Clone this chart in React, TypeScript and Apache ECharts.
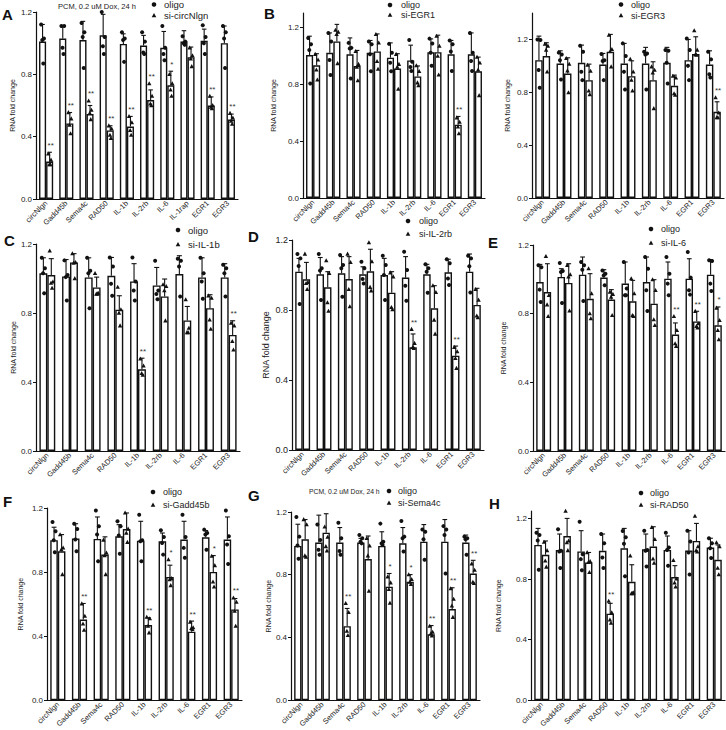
import React, { useEffect, useRef } from 'react';
import * as echarts from 'echarts';

const CATS10 = ['circNlgn', 'Gadd45b', 'Sema4c', 'RAD50', 'IL-1b', 'IL-2rb', 'IL-6', 'IL-1rap', 'EGR1', 'EGR3'];
const CATS9 = ['circNlgn', 'Gadd45b', 'Sema4c', 'RAD50', 'IL-1b', 'IL-2rb', 'IL-6', 'EGR1', 'EGR3'];
const Y_TICKS = [0, 0.4, 0.8, 1.2];

// Panel A: si-circNlgn
const aOligoMean = [1.01, 1.03, 1.02, 1.05, 0.995, 0.985, 0.97, 1.01, 1.015, 1.0];
const aOligoErr = [1.12, 1.11, 1.14, 1.185, 1.06, 1.05, 1.075, 1.08, 1.09, 1.11];
const aOligoPts = [[1.12, 1.03, 1.02, 0.87], [1.11, 1.11, 0.97, 0.93], [1.13, 1.07, 1.04, 0.84], [1.2, 1.04, 0.98, 0.93], [1.07, 1.03, 1.02, 0.88], [1.07, 1.01, 0.94, 0.93], [1.11, 0.97, 0.93, 0.89], [1.045, 1.01, 1.0, 0.99], [1.115, 1.04, 1.0, 0.93], [1.11, 1.07, 1.03, 0.84]];
const aSiMean = [0.24, 0.485, 0.545, 0.44, 0.465, 0.635, 0.73, 0.91, 0.6, 0.51];
const aSiErr = [0.3, 0.555, 0.6, 0.47, 0.53, 0.7, 0.82, 0.975, 0.655, 0.545];
const aSiPts = [[0.29, 0.25, 0.22, 0.22], [0.555, 0.515, 0.475, 0.42], [0.63, 0.57, 0.55, 0.51], [0.47, 0.45, 0.41, 0.39], [0.53, 0.49, 0.44, 0.41], [0.74, 0.66, 0.61, 0.6], [0.8, 0.74, 0.7, 0.66], [0.97, 0.92, 0.9, 0.85], [0.66, 0.6, 0.59, 0.58], [0.55, 0.52, 0.5, 0.48]];
const aStars = ['**', '**', '**', '**', '**', '**', '*', '', '**', '**'];

// Panel B: si-EGR1
const bOligoMean = [1.005, 1.02, 1.01, 1.02, 0.986, 0.967, 1.025, 1.01, 1.01];
const bOligoErr = [1.137, 1.16, 1.125, 1.107, 1.09, 1.074, 1.118, 1.107, 1.16];
const bOligoPts = [[1.125, 1.08, 1.04, 0.805], [1.16, 1.1, 0.97, 0.865], [1.09, 1.055, 1.05, 0.84], [1.1, 1.08, 1.01, 0.89], [1.083, 1.02, 0.95, 0.89], [1.11, 0.958, 0.92, 0.893], [1.12, 1.085, 1.02, 0.93], [1.107, 1.08, 1.03, 0.893], [1.16, 1.02, 0.963, 0.893]];
const bSiMean = [0.933, 1.1, 0.928, 1.03, 0.91, 0.854, 1.025, 0.515, 0.89];
const bSiErr = [1.014, 1.22, 1.037, 1.153, 1.014, 0.928, 1.144, 0.573, 0.99];
const bSiPts = [[1.01, 0.97, 0.9, 0.83], [1.18, 1.165, 1.15, 0.945], [1.03, 0.94, 0.92, 0.825], [1.15, 1.09, 0.96, 0.905], [1.01, 0.94, 0.92, 0.765], [0.93, 0.89, 0.81, 0.79], [1.137, 1.067, 0.997, 0.865], [0.564, 0.533, 0.5, 0.452], [0.99, 0.95, 0.9, 0.72]];
const bStars = ['', '', '', '', '', '', '', '**', ''];

// Panel (top right): si-EGR3
const tOligoMean = [1.043, 1.018, 1.023, 1.01, 1.018, 1.018, 1.023, 1.043, 1.01];
const tOligoErr = [1.225, 1.114, 1.157, 1.094, 1.17, 1.14, 1.14, 1.2, 1.114];
const tOligoPts = [[1.2, 1.195, 0.968, 0.834], [1.1, 1.086, 1.043, 0.897], [1.152, 1.107, 0.955, 0.892], [1.089, 1.043, 1.036, 0.892], [1.17, 1.074, 0.955, 0.821], [1.107, 1.094, 1.086, 0.821], [1.12, 1.114, 1.023, 0.867], [1.207, 1.12, 1.0, 0.892], [1.107, 1.049, 0.937, 0.912]];
const tSiMean = [1.074, 0.942, 0.892, 1.107, 0.922, 0.892, 0.849, 1.089, 0.652];
const tSiErr = [1.175, 1.061, 1.013, 1.238, 1.038, 1.031, 0.93, 1.22, 0.728];
const tSiPts = [[1.165, 1.15, 1.12, 0.955], [1.056, 1.013, 0.963, 0.798], [1.006, 0.96, 0.81, 0.783], [1.233, 1.124, 1.107, 0.993], [1.051, 0.955, 0.892, 0.811], [0.993, 0.968, 0.947, 0.677], [0.922, 0.91, 0.79, 0.778], [1.266, 1.12, 1.086, 1.081], [0.76, 0.644, 0.609, 0.609]];
const tStars = ['', '', '', '', '', '', '', '', '**'];

// Panel C: si-IL-1b
const cOligoMean = [1.03, 1.012, 1.006, 1.016, 0.983, 0.96, 1.026, 1.006, 1.006];
const cOligoErr = [1.12, 1.11, 1.12, 1.122, 1.086, 1.064, 1.132, 1.12, 1.086];
const cOligoPts = [[1.12, 1.06, 1.03, 0.915], [1.105, 1.02, 1.008, 0.873], [1.12, 1.045, 1.03, 0.828], [1.122, 1.07, 0.97, 0.9], [1.122, 0.983, 0.93, 0.873], [1.103, 0.93, 0.91, 0.88], [1.115, 1.103, 1.07, 0.896], [1.12, 1.03, 0.983, 0.883], [1.08, 1.06, 1.03, 0.896]];
const cSiMean = [1.02, 1.093, 0.948, 0.819, 0.474, 0.896, 0.757, 0.828, 0.673];
const cSiErr = [1.115, 1.144, 1.008, 0.9, 0.538, 0.997, 0.838, 0.906, 0.755];
const cSiPts = [[1.16, 0.98, 0.973, 0.944], [1.144, 1.093, 1.09, 1.0], [1.03, 0.915, 0.91, 0.91], [0.95, 0.819, 0.8, 0.726], [0.534, 0.493, 0.45, 0.44], [0.964, 0.954, 0.93, 0.755], [0.877, 0.712, 0.687, 0.687], [0.9, 0.886, 0.76, 0.706], [0.741, 0.726, 0.635, 0.586]];
const cStars = ['', '', '', '', '**', '', '', '', '**'];

// Panel D: si-IL-2rb
const dOligoMean = [1.019, 1.004, 1.01, 1.004, 1.0, 0.985, 1.004, 1.015, 1.019];
const dOligoErr = [1.095, 1.1, 1.105, 1.047, 1.095, 1.105, 1.061, 1.09, 1.12];
const dOligoPts = [[1.12, 1.095, 1.051, 0.834], [1.12, 1.038, 1.025, 0.857], [1.114, 1.057, 1.038, 0.876], [1.076, 1.038, 0.977, 0.952], [1.11, 1.057, 1.0, 0.857], [1.133, 1.029, 0.939, 0.853], [1.061, 1.038, 1.019, 0.899], [1.09, 1.067, 0.98, 0.943], [1.11, 1.095, 1.05, 0.9]];
const dSiMean = [0.975, 0.93, 0.977, 1.021, 0.899, 0.587, 0.81, 0.539, 0.829];
const dSiErr = [1.072, 1.019, 1.105, 1.147, 1.019, 0.663, 0.939, 0.594, 0.924];
const dSiPts = [[1.12, 0.958, 0.952, 0.918], [1.082, 1.01, 0.842, 0.794], [1.12, 1.072, 0.918, 0.819], [1.185, 1.076, 0.93, 0.91], [1.013, 0.99, 0.815, 0.802], [0.69, 0.61, 0.587, 0.581], [0.939, 0.901, 0.743, 0.663], [0.587, 0.562, 0.524, 0.467], [0.918, 0.857, 0.766, 0.756]];
const dStars = ['', '', '', '', '', '**', '', '**', ''];

// Panel E: si-IL-6
const eOligoMean = [0.984, 1.014, 1.027, 1.01, 0.975, 0.984, 1.004, 1.004, 1.027];
const eOligoErr = [1.087, 1.062, 1.13, 1.056, 1.101, 1.13, 1.101, 1.12, 1.115];
const eOligoPts = [[1.082, 1.07, 0.94, 0.868], [1.095, 1.049, 1.043, 0.862], [1.101, 1.082, 1.056, 0.874], [1.052, 1.033, 1.023, 0.965], [1.101, 0.946, 0.907, 0.907], [1.13, 1.062, 0.936, 0.816], [1.13, 1.033, 0.975, 0.907], [1.159, 1.01, 0.936, 0.911], [1.111, 1.107, 0.975, 0.932]];
const eSiMean = [0.926, 0.979, 0.887, 0.882, 0.872, 0.858, 0.678, 0.755, 0.732];
const eSiErr = [1.091, 1.091, 1.033, 0.94, 0.994, 0.998, 0.746, 0.814, 0.839];
const eSiPts = [[1.134, 0.907, 0.852, 0.784], [1.082, 1.027, 1.014, 0.816], [1.062, 0.917, 0.8, 0.771], [0.926, 0.913, 0.897, 0.79], [1.004, 0.917, 0.79, 0.784], [0.998, 0.936, 0.765, 0.732], [0.784, 0.703, 0.625, 0.61], [0.814, 0.742, 0.726, 0.718], [0.833, 0.761, 0.703, 0.649]];
const eStars = ['', '', '', '', '', '', '**', '**', '*'];

// Panel F: si-Gadd45b
const fOligoMean = [0.999, 1.009, 1.007, 1.023, 0.996, 0.992, 1.003, 1.017, 1.003];
const fOligoErr = [1.08, 1.102, 1.144, 1.096, 1.117, 1.044, 1.117, 1.059, 1.144];
const fOligoPts = [[1.113, 1.055, 0.999, 0.924], [1.102, 1.069, 1.003, 0.93], [1.185, 1.086, 1.034, 0.868], [1.117, 1.086, 1.028, 0.915], [1.158, 0.999, 0.992, 0.868], [1.061, 1.019, 0.982, 0.909], [1.158, 1.019, 0.951, 0.889], [1.065, 1.044, 1.034, 0.94], [1.185, 1.023, 0.972, 0.851]];
const fSiMean = [0.93, 0.504, 0.909, 1.069, 0.469, 0.77, 0.428, 0.801, 0.567];
const fSiErr = [1.034, 0.604, 1.02, 1.169, 0.515, 0.843, 0.494, 0.903, 0.635];
const fSiPts = [[1.034, 0.951, 0.94, 0.785], [0.602, 0.525, 0.477, 0.438], [1.0, 0.92, 0.903, 0.785], [1.169, 1.069, 1.044, 0.986], [0.519, 0.509, 0.463, 0.421], [0.878, 0.76, 0.753, 0.716], [0.488, 0.453, 0.448, 0.442], [0.899, 0.841, 0.739, 0.708], [0.639, 0.612, 0.556, 0.463]];
const fStars = ['', '**', '', '', '**', '*', '**', '*', '**'];

// Panel G: si-Sema4c
const gOligoMean = [0.984, 1.005, 1.005, 1.005, 0.984, 1.0, 1.011, 1.011, 1.005];
const gOligoErr = [1.122, 1.18, 1.101, 1.032, 1.074, 1.101, 1.12, 1.152, 1.053];
const gOligoPts = [[1.168, 1.043, 0.986, 0.902], [1.12, 1.022, 0.959, 0.927], [1.131, 1.032, 0.952, 0.927], [1.053, 1.032, 1.011, 1.0], [1.126, 1.011, 1.0, 0.99], [1.143, 1.043, 1.032, 0.948], [1.089, 1.074, 1.026, 0.896], [1.11, 1.089, 1.053, 0.808], [1.043, 1.032, 1.026, 0.927]];
const gSiMean = [1.026, 1.068, 0.472, 0.9, 0.724, 0.755, 0.42, 0.581, 0.808];
const gSiErr = [1.152, 1.189, 0.585, 1.047, 0.808, 0.801, 0.476, 0.717, 0.892];
const gSiPts = [[1.152, 1.12, 0.921, 0.912], [1.105, 1.04, 0.98, 0.952], [0.617, 0.56, 0.44, 0.413], [1.032, 0.984, 0.921, 0.696], [0.787, 0.749, 0.707, 0.619], [0.801, 0.77, 0.753, 0.738], [0.472, 0.434, 0.424, 0.41], [0.711, 0.644, 0.602, 0.529], [0.87, 0.829, 0.753, 0.745]];
const gStars = ['', '', '**', '', '*', '*', '**', '**', '**'];

// Panel H: si-RAD50
const hOligoMean = [1.026, 0.993, 0.983, 0.987, 1.004, 0.998, 0.993, 0.989, 1.009];
const hOligoErr = [1.135, 1.098, 1.12, 1.098, 1.135, 1.098, 1.085, 1.12, 1.07];
const hOligoPts = [[1.107, 1.092, 1.055, 0.862], [1.129, 0.987, 0.983, 0.873], [1.179, 0.965, 0.932, 0.858], [1.098, 1.037, 0.943, 0.873], [1.118, 1.076, 1.033, 0.819], [1.12, 0.993, 0.987, 0.884], [1.107, 1.009, 0.993, 0.889], [1.12, 1.048, 0.976, 0.83], [1.07, 1.037, 1.004, 0.939]];
const hSiMean = [0.961, 1.085, 0.91, 0.572, 0.782, 1.015, 0.814, 1.052, 0.928];
const hSiErr = [1.052, 1.201, 0.976, 0.64, 0.895, 1.146, 0.889, 1.168, 1.026];
const hSiPts = [[1.044, 0.989, 0.921, 0.88], [1.249, 1.052, 1.041, 0.989], [0.976, 0.917, 0.91, 0.845], [0.655, 0.579, 0.531, 0.509], [0.954, 0.71, 0.705, 0.705], [1.142, 1.063, 0.934, 0.906], [0.924, 0.801, 0.775, 0.749], [1.216, 1.015, 0.989, 0.98], [1.041, 1.015, 0.873, 0.83]];
const hStars = ['', '', '', '**', '', '', '', '', ''];

const SI_LABELS = ['si-circNlgn', 'si-EGR1', 'si-EGR3', 'si-IL-1b', 'si-IL-2rb', 'si-IL-6', 'si-Gadd45b', 'si-Sema4c', 'si-RAD50'];
const NOTE = 'PCM, 0.2 uM Dox, 24 h';

type PanelData = {
  cats: string[]; oM: number[]; oE: number[]; oP: number[][];
  sM: number[]; sE: number[]; sP: number[][]; stars: string[]; si: string;
};

const panels: PanelData[] = [
  { cats: CATS10, oM: aOligoMean, oE: aOligoErr, oP: aOligoPts, sM: aSiMean, sE: aSiErr, sP: aSiPts, stars: aStars, si: SI_LABELS[0] },
  { cats: CATS9, oM: bOligoMean, oE: bOligoErr, oP: bOligoPts, sM: bSiMean, sE: bSiErr, sP: bSiPts, stars: bStars, si: SI_LABELS[1] },
  { cats: CATS9, oM: tOligoMean, oE: tOligoErr, oP: tOligoPts, sM: tSiMean, sE: tSiErr, sP: tSiPts, stars: tStars, si: SI_LABELS[2] },
  { cats: CATS9, oM: cOligoMean, oE: cOligoErr, oP: cOligoPts, sM: cSiMean, sE: cSiErr, sP: cSiPts, stars: cStars, si: SI_LABELS[3] },
  { cats: CATS9, oM: dOligoMean, oE: dOligoErr, oP: dOligoPts, sM: dSiMean, sE: dSiErr, sP: dSiPts, stars: dStars, si: SI_LABELS[4] },
  { cats: CATS9, oM: eOligoMean, oE: eOligoErr, oP: eOligoPts, sM: eSiMean, sE: eSiErr, sP: eSiPts, stars: eStars, si: SI_LABELS[5] },
  { cats: CATS9, oM: fOligoMean, oE: fOligoErr, oP: fOligoPts, sM: fSiMean, sE: fSiErr, sP: fSiPts, stars: fStars, si: SI_LABELS[6] },
  { cats: CATS9, oM: gOligoMean, oE: gOligoErr, oP: gOligoPts, sM: gSiMean, sE: gSiErr, sP: gSiPts, stars: gStars, si: SI_LABELS[7] },
  { cats: CATS9, oM: hOligoMean, oE: hOligoErr, oP: hOligoPts, sM: hSiMean, sE: hSiErr, sP: hSiPts, stars: hStars, si: SI_LABELS[8] },
];

const FONT = '"Liberation Sans", Arial, sans-serif';

const layout = [
  { grid: { left: 36, top: 12, width: 202, height: 187 }, max: 1.2, letter: 'A', lx: 2, ly: 14, legX: 154, legY: 4.5, legY2: 15.5, legTX: 164, legSize: 9.5, nameGap: 20, nameSize: 7, tickSize: 8, note: true, noteX: 58, noteY: 6, noteSize: 7.5 },
  { grid: { left: 303, top: 13, width: 182, height: 185 }, max: 1.3, letter: 'B', lx: 264, ly: 13, legX: 390, legY: 5, legY2: 15, legTX: 401, legSize: 9, nameGap: 26, nameSize: 7, tickSize: 8, note: false },
  { grid: { left: 532, top: 13, width: 192, height: 185 }, max: 1.4, letter: '', lx: 0, ly: 0, legX: 621, legY: 4.5, legY2: 15.5, legTX: 631, legSize: 9, nameGap: 21, nameSize: 7, tickSize: 8, note: false },
  { grid: { left: 36, top: 244, width: 204, height: 207 }, max: 1.2, letter: 'C', lx: 4, ly: 240, legX: 178, legY: 230, legY2: 244.5, legTX: 188, legSize: 9.5, nameGap: 14, nameSize: 7, tickSize: 8, note: false },
  { grid: { left: 292, top: 240, width: 192, height: 210 }, max: 1.2, letter: 'D', lx: 248, ly: 236, legX: 408, legY: 221, legY2: 234, legTX: 419, legSize: 9, nameGap: 22, nameSize: 9, tickSize: 9, note: false },
  { grid: { left: 533, top: 245, width: 192, height: 206 }, max: 1.2, letter: 'E', lx: 488, ly: 242, legX: 651, legY: 229, legY2: 243, legTX: 661, legSize: 9, nameGap: 26, nameSize: 7, tickSize: 8, note: false },
  { grid: { left: 47, top: 508, width: 195, height: 193 }, max: 1.2, letter: 'F', lx: 3, ly: 501, legX: 153, legY: 492, legY2: 505, legTX: 163, legSize: 9, nameGap: 23, nameSize: 7, tickSize: 8, note: false },
  { grid: { left: 291, top: 512, width: 189, height: 190 }, max: 1.2, letter: 'G', lx: 248, ly: 495, legX: 389, legY: 491, legY2: 503, legTX: 398, legSize: 9, nameGap: 19, nameSize: 7, tickSize: 8, note: true, noteX: 309, noteY: 491, noteSize: 6.8 },
  { grid: { left: 531, top: 511, width: 194, height: 191 }, max: 1.25, letter: 'H', lx: 489, ly: 503, legX: 641, legY: 493, legY2: 505, legTX: 650, legSize: 9, nameGap: 29, nameSize: 7, tickSize: 8, note: false },
];

const JIT = [-0.2, 0.2, -0.04, 0.1];
const BAR_FRAC = 0.35;

const tri = (x: number, y: number, s: number) => [[x, y - s * 1.1], [x - s, y + s * 0.75], [x + s, y + s * 0.75]];

export default function App() {
  const ref = useRef<HTMLDivElement>(null);
  useEffect(() => {
    document.body.style.margin = '0';
    const chart = echarts.init(ref.current as HTMLDivElement, null, { renderer: 'svg' });
    const grid: any[] = [];
    const xAxis: any[] = [];
    const yAxis: any[] = [];
    const series: any[] = [];
    const graphic: any[] = [];

    panels.forEach((p, idx) => {
      const L: any = layout[idx];
      grid.push({ ...L.grid });
      xAxis.push({
        type: 'category', gridIndex: idx, data: p.cats,
        axisTick: { show: false },
        axisLine: { lineStyle: { color: '#111', width: 1.2 } },
        axisLabel: { rotate: 45, fontSize: 7.5, margin: 3, interval: 0, color: '#222', fontFamily: FONT },
      });
      yAxis.push({
        type: 'value', gridIndex: idx, min: 0, max: L.max,
        axisLine: { show: true, lineStyle: { color: '#111', width: 1.2 } },
        axisTick: { show: true, length: 3, customValues: Y_TICKS, lineStyle: { color: '#111' } },
        axisLabel: { customValues: Y_TICKS, formatter: (v: number) => v.toFixed(1), fontSize: L.tickSize, margin: 4, color: '#222', fontFamily: FONT },
        splitLine: { show: false },
        name: 'RNA fold change', nameLocation: 'middle', nameGap: L.nameGap,
        nameTextStyle: { fontSize: L.nameSize, color: '#222', fontFamily: FONT },
      });
      const barStyle = { color: '#fff', borderColor: '#111', borderWidth: 1.4 };
      series.push({ type: 'bar', name: 'oligo', xAxisIndex: idx, yAxisIndex: idx, data: p.oM, barWidth: '35%', barGap: '0%', itemStyle: barStyle, silent: true });
      series.push({ type: 'bar', name: p.si, xAxisIndex: idx, yAxisIndex: idx, data: p.sM, barWidth: '35%', barGap: '0%', itemStyle: barStyle, silent: true });

      [0, 1].forEach((g) => {
        const means = g === 0 ? p.oM : p.sM;
        const errs = g === 0 ? p.oE : p.sE;
        const pts = g === 0 ? p.oP : p.sP;
        series.push({
          type: 'custom', xAxisIndex: idx, yAxisIndex: idx, silent: true, z: 5, clip: false,
          data: p.cats.map((_, i) => [i, errs[i]]),
          encode: { x: 0, y: 1 },
          renderItem: (params: any, api: any) => {
            const i = api.value(0);
            const catW = api.size([1, 0])[0];
            const bw = catW * BAR_FRAC;
            const cx = api.coord([i, 0])[0] + (g === 0 ? -bw / 2 : bw / 2);
            const yM = api.coord([i, means[i]])[1];
            const yE = api.coord([i, errs[i]])[1];
            const children: any[] = [
              { type: 'line', shape: { x1: cx, y1: yM, x2: cx, y2: yE }, style: { stroke: '#111', lineWidth: 1.1 } },
              { type: 'line', shape: { x1: cx - bw * 0.32, y1: yE, x2: cx + bw * 0.32, y2: yE }, style: { stroke: '#111', lineWidth: 1.1 } },
            ];
            let topY = yE;
            pts[i].forEach((v, k) => {
              const y = api.coord([i, v])[1];
              const x = cx + JIT[k] * bw;
              topY = Math.min(topY, y);
              if (g === 0) children.push({ type: 'circle', shape: { cx: x, cy: y, r: 2 }, style: { fill: '#111' } });
              else children.push({ type: 'polygon', shape: { points: tri(x, y, 2.2) }, style: { fill: '#111' } });
            });
            if (g === 1 && p.stars[i]) {
              children.push({ type: 'text', x: cx + 1, y: topY - 3, style: { text: p.stars[i], fontSize: 8, fill: '#333', align: 'center', verticalAlign: 'bottom', fontFamily: FONT } });
            }
            return { type: 'group', children };
          },
        });
      });

      // legend
      graphic.push({ type: 'circle', shape: { cx: L.legX, cy: L.legY, r: 2.3 }, style: { fill: '#111' } });
      graphic.push({ type: 'polygon', shape: { points: tri(L.legX, L.legY2, 2.3) }, style: { fill: '#111' } });
      graphic.push({ type: 'text', x: L.legTX, y: L.legY, style: { text: 'oligo', fontSize: L.legSize, fill: '#222', verticalAlign: 'middle', fontFamily: FONT } });
      graphic.push({ type: 'text', x: L.legTX, y: L.legY2, style: { text: p.si, fontSize: L.legSize, fill: '#222', verticalAlign: 'middle', fontFamily: FONT } });
      if (L.letter) {
        graphic.push({ type: 'text', x: L.lx, y: L.ly, style: { text: L.letter, fontSize: 15, fontWeight: 'bold', fill: '#111', verticalAlign: 'middle', fontFamily: FONT } });
      }
      if (L.note) {
        graphic.push({ type: 'text', x: L.noteX, y: L.noteY, style: { text: NOTE, fontSize: L.noteSize, fill: '#222', verticalAlign: 'middle', fontFamily: FONT } });
      }
    });

    chart.setOption({
      animation: false,
      backgroundColor: '#fff',
      textStyle: { fontFamily: FONT },
      grid, xAxis, yAxis, series, graphic,
    });
    return () => chart.dispose();
  }, []);
  return <div ref={ref} style={{ width: 726, height: 730 }} />;
}
